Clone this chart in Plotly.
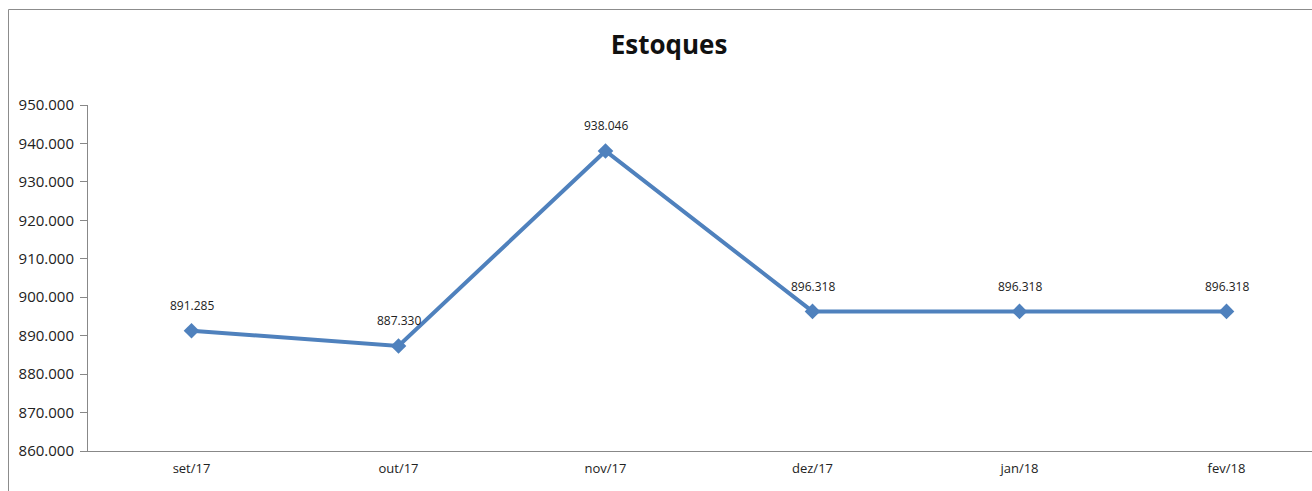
import plotly.graph_objects as go

categories = ["set/17", "out/17", "nov/17", "dez/17", "jan/18", "fev/18"]
values = [891285, 887330, 938046, 896318, 896318, 896318]
y_ticks = [860000, 870000, 880000, 890000, 900000, 910000, 920000, 930000, 940000, 950000]

W, H = 1312, 491
ml, mr, mt = 88, 0, 105
mb = H - 451
pw = W - ml - mr
ph = H - mt - mb
step = 207.0

FONT = "Open Sans, Noto Sans, sans-serif"

fig = go.Figure()
xs = list(range(len(categories)))
fig.add_trace(go.Scatter(
    x=xs, y=values,
    mode="lines+markers",
    line=dict(color="#4F81BD", width=4),
    marker=dict(symbol="diamond", size=12, color="#4F81BD"),
    cliponaxis=False, hoverinfo="skip",
))

annotations = []
for xi, v in zip(xs, values):
    annotations.append(dict(
        x=xi, y=v, xref="x", yref="y", text=f"{v:,d}".replace(",", "."),
        showarrow=False, yshift=25, xanchor="center", yanchor="middle",
        font=dict(family=FONT, size=12, color="#222"),
    ))

border_x = (8.5 - ml) / pw
border_y = (H - mb - 9.5) / ph

fig.update_layout(
    width=W, height=H, separators=",.",
    margin=dict(l=ml, r=mr, t=mt, b=mb, pad=0),
    paper_bgcolor="white", plot_bgcolor="white",
    showlegend=False,
    title=dict(text="<b>Estoques</b>", x=669 / W, xanchor="center",
               y=1 - 45 / H, yanchor="middle",
               font=dict(family=FONT, size=26, color="#111")),
    font=dict(family=FONT, size=12, color="#222"),
    xaxis=dict(
        tickmode="array", tickvals=xs, ticktext=categories,
        range=[-0.5, -0.5 + pw / step], showgrid=False, zeroline=False,
        showline=True, linecolor="#888", linewidth=1, ticks="",
        ticklabelstandoff=5,
        tickfont=dict(size=13, color="#222"),
    ),
    yaxis=dict(
        range=[860000, 950000], tickmode="array", tickvals=y_ticks,
        tickformat=",d", showgrid=False, zeroline=False,
        showline=True, linecolor="#888", linewidth=1,
        ticks="outside", ticklen=7, tickcolor="#888",
        ticklabelstandoff=3,
        tickfont=dict(size=15, color="#222"),
    ),
    annotations=annotations,
    shapes=[
        dict(type="line", xref="paper", yref="paper",
             x0=border_x, x1=border_x, y0=-0.5, y1=border_y,
             line=dict(color="#8c8c8c", width=1), layer="below"),
        dict(type="line", xref="paper", yref="paper",
             x0=border_x, x1=1.5, y0=border_y, y1=border_y,
             line=dict(color="#8c8c8c", width=1), layer="below"),
    ],
)

fig.write_html(
    "out.html",
    config={"displayModeBar": False},
    post_script="document.body.style.margin='0';document.body.style.overflow='hidden';",
)
